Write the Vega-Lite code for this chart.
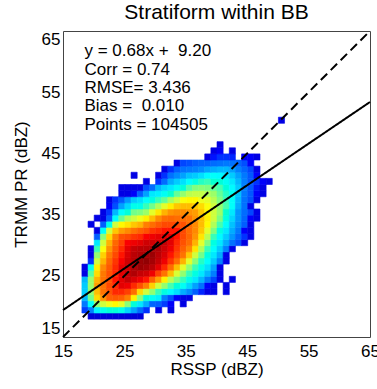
{
"$schema":"https://vega.github.io/schema/vega-lite/v6.json",
"width":307,"height":306,
"autosize":{"type":"none"},
"padding":{"left":63,"top":31,"right":7,"bottom":52},
"background":"white",
"title":{"text":"Stratiform within BB","fontSize":21,"font":"Liberation Sans","fontWeight":"normal","anchor":"middle","offset":4,"frame":"group","color":"#000"},
"config":{"view":{"stroke":"#444","strokeWidth":1},
"axis":{"grid":false,"ticks":false,"domain":false,"labelFont":"Liberation Sans","titleFont":"Liberation Sans","labelFontSize":17,"titleFontSize":17,"labelColor":"#000","titleColor":"#000","titleFontWeight":"normal","labelOverlap":false}},
"datasets":{
"cells":[
{"x":19,"y":18,"v":0.09},{"x":20,"y":18,"v":0.09},{"x":21,"y":18,"v":0.09},{"x":22,"y":18,"v":0.09},{"x":23,"y":18,"v":0.09},{"x":24,"y":18,"v":0.09},{"x":25,"y":18,"v":0.09},{"x":26,"y":18,"v":0.09},{"x":27,"y":18,"v":0.09},
{"x":18,"y":19,"v":0.16},{"x":19,"y":19,"v":0.25},{"x":20,"y":19,"v":0.36},{"x":21,"y":19,"v":0.4},{"x":22,"y":19,"v":0.42},{"x":23,"y":19,"v":0.42},{"x":24,"y":19,"v":0.4},{"x":25,"y":19,"v":0.33},{"x":26,"y":19,"v":0.28},{"x":27,"y":19,"v":0.22},{"x":28,"y":19,"v":0.15},{"x":30,"y":19,"v":0.1},{"x":32,"y":19,"v":0.1},
{"x":18,"y":20,"v":0.24},{"x":19,"y":20,"v":0.38},{"x":20,"y":20,"v":0.52},{"x":21,"y":20,"v":0.58},{"x":22,"y":20,"v":0.61},{"x":23,"y":20,"v":0.63},{"x":24,"y":20,"v":0.6},{"x":25,"y":20,"v":0.51},{"x":26,"y":20,"v":0.42},{"x":27,"y":20,"v":0.35},{"x":28,"y":20,"v":0.29},{"x":29,"y":20,"v":0.21},{"x":30,"y":20,"v":0.2},{"x":31,"y":20,"v":0.16},{"x":32,"y":20,"v":0.12},{"x":34,"y":20,"v":0.1},
{"x":18,"y":21,"v":0.3},{"x":19,"y":21,"v":0.49},{"x":20,"y":21,"v":0.66},{"x":21,"y":21,"v":0.73},{"x":22,"y":21,"v":0.8},{"x":23,"y":21,"v":0.81},{"x":24,"y":21,"v":0.8},{"x":25,"y":21,"v":0.75},{"x":26,"y":21,"v":0.64},{"x":27,"y":21,"v":0.51},{"x":28,"y":21,"v":0.42},{"x":29,"y":21,"v":0.39},{"x":30,"y":21,"v":0.36},{"x":31,"y":21,"v":0.25},{"x":32,"y":21,"v":0.18},{"x":33,"y":21,"v":0.12},{"x":34,"y":21,"v":0.1},{"x":35,"y":21,"v":0.1},
{"x":18,"y":22,"v":0.32},{"x":19,"y":22,"v":0.52},{"x":20,"y":22,"v":0.69},{"x":21,"y":22,"v":0.77},{"x":22,"y":22,"v":0.82},{"x":23,"y":22,"v":0.86},{"x":24,"y":22,"v":0.86},{"x":25,"y":22,"v":0.84},{"x":26,"y":22,"v":0.78},{"x":27,"y":22,"v":0.66},{"x":28,"y":22,"v":0.58},{"x":29,"y":22,"v":0.52},{"x":30,"y":22,"v":0.45},{"x":31,"y":22,"v":0.41},{"x":32,"y":22,"v":0.37},{"x":33,"y":22,"v":0.34},{"x":34,"y":22,"v":0.29},{"x":35,"y":22,"v":0.26},{"x":36,"y":22,"v":0.2},{"x":37,"y":22,"v":0.14},{"x":38,"y":22,"v":0.1},{"x":39,"y":22,"v":0.1},{"x":41,"y":22,"v":0.1},
{"x":18,"y":23,"v":0.32},{"x":19,"y":23,"v":0.53},{"x":20,"y":23,"v":0.72},{"x":21,"y":23,"v":0.77},{"x":22,"y":23,"v":0.83},{"x":23,"y":23,"v":0.86},{"x":24,"y":23,"v":0.9},{"x":25,"y":23,"v":0.89},{"x":26,"y":23,"v":0.86},{"x":27,"y":23,"v":0.82},{"x":28,"y":23,"v":0.75},{"x":29,"y":23,"v":0.67},{"x":30,"y":23,"v":0.58},{"x":31,"y":23,"v":0.52},{"x":32,"y":23,"v":0.46},{"x":33,"y":23,"v":0.42},{"x":34,"y":23,"v":0.39},{"x":35,"y":23,"v":0.33},{"x":36,"y":23,"v":0.28},{"x":37,"y":23,"v":0.23},{"x":38,"y":23,"v":0.12},{"x":39,"y":23,"v":0.1},{"x":41,"y":23,"v":0.1},
{"x":18,"y":24,"v":0.3},{"x":19,"y":24,"v":0.53},{"x":20,"y":24,"v":0.7},{"x":21,"y":24,"v":0.77},{"x":22,"y":24,"v":0.82},{"x":23,"y":24,"v":0.87},{"x":24,"y":24,"v":0.9},{"x":25,"y":24,"v":0.93},{"x":26,"y":24,"v":0.91},{"x":27,"y":24,"v":0.89},{"x":28,"y":24,"v":0.87},{"x":29,"y":24,"v":0.8},{"x":30,"y":24,"v":0.72},{"x":31,"y":24,"v":0.64},{"x":32,"y":24,"v":0.56},{"x":33,"y":24,"v":0.5},{"x":34,"y":24,"v":0.45},{"x":35,"y":24,"v":0.4},{"x":36,"y":24,"v":0.35},{"x":37,"y":24,"v":0.3},{"x":38,"y":24,"v":0.24},{"x":39,"y":24,"v":0.17},{"x":40,"y":24,"v":0.1},{"x":42,"y":24,"v":0.1},
{"x":18,"y":25,"v":0.1},{"x":19,"y":25,"v":0.47},{"x":20,"y":25,"v":0.66},{"x":21,"y":25,"v":0.76},{"x":22,"y":25,"v":0.82},{"x":23,"y":25,"v":0.86},{"x":24,"y":25,"v":0.9},{"x":25,"y":25,"v":0.93},{"x":26,"y":25,"v":0.95},{"x":27,"y":25,"v":0.93},{"x":28,"y":25,"v":0.92},{"x":29,"y":25,"v":0.89},{"x":30,"y":25,"v":0.84},{"x":31,"y":25,"v":0.77},{"x":32,"y":25,"v":0.69},{"x":33,"y":25,"v":0.59},{"x":34,"y":25,"v":0.52},{"x":35,"y":25,"v":0.45},{"x":36,"y":25,"v":0.41},{"x":37,"y":25,"v":0.35},{"x":38,"y":25,"v":0.3},{"x":39,"y":25,"v":0.25},{"x":40,"y":25,"v":0.1},
{"x":18,"y":26,"v":0.1},{"x":19,"y":26,"v":0.39},{"x":20,"y":26,"v":0.64},{"x":21,"y":26,"v":0.74},{"x":22,"y":26,"v":0.81},{"x":23,"y":26,"v":0.86},{"x":24,"y":26,"v":0.9},{"x":25,"y":26,"v":0.92},{"x":26,"y":26,"v":0.95},{"x":27,"y":26,"v":0.97},{"x":28,"y":26,"v":0.96},{"x":29,"y":26,"v":0.94},{"x":30,"y":26,"v":0.9},{"x":31,"y":26,"v":0.86},{"x":32,"y":26,"v":0.78},{"x":33,"y":26,"v":0.69},{"x":34,"y":26,"v":0.6},{"x":35,"y":26,"v":0.52},{"x":36,"y":26,"v":0.45},{"x":37,"y":26,"v":0.4},{"x":38,"y":26,"v":0.34},{"x":39,"y":26,"v":0.28},{"x":40,"y":26,"v":0.1},
{"x":19,"y":27,"v":0.15},{"x":20,"y":27,"v":0.58},{"x":21,"y":27,"v":0.7},{"x":22,"y":27,"v":0.79},{"x":23,"y":27,"v":0.85},{"x":24,"y":27,"v":0.88},{"x":25,"y":27,"v":0.92},{"x":26,"y":27,"v":0.94},{"x":27,"y":27,"v":0.97},{"x":28,"y":27,"v":0.98},{"x":29,"y":27,"v":0.96},{"x":30,"y":27,"v":0.93},{"x":31,"y":27,"v":0.89},{"x":32,"y":27,"v":0.85},{"x":33,"y":27,"v":0.78},{"x":34,"y":27,"v":0.7},{"x":35,"y":27,"v":0.6},{"x":36,"y":27,"v":0.51},{"x":37,"y":27,"v":0.44},{"x":38,"y":27,"v":0.38},{"x":39,"y":27,"v":0.32},{"x":40,"y":27,"v":0.25},{"x":41,"y":27,"v":0.1},
{"x":19,"y":28,"v":0.1},{"x":20,"y":28,"v":0.52},{"x":21,"y":28,"v":0.67},{"x":22,"y":28,"v":0.76},{"x":23,"y":28,"v":0.83},{"x":24,"y":28,"v":0.87},{"x":25,"y":28,"v":0.91},{"x":26,"y":28,"v":0.94},{"x":27,"y":28,"v":0.95},{"x":28,"y":28,"v":0.96},{"x":29,"y":28,"v":0.97},{"x":30,"y":28,"v":0.94},{"x":31,"y":28,"v":0.91},{"x":32,"y":28,"v":0.87},{"x":33,"y":28,"v":0.83},{"x":34,"y":28,"v":0.77},{"x":35,"y":28,"v":0.68},{"x":36,"y":28,"v":0.58},{"x":37,"y":28,"v":0.49},{"x":38,"y":28,"v":0.41},{"x":39,"y":28,"v":0.35},{"x":40,"y":28,"v":0.29},{"x":41,"y":28,"v":0.1},
{"x":19,"y":29,"v":0.1},{"x":20,"y":29,"v":0.45},{"x":21,"y":29,"v":0.62},{"x":22,"y":29,"v":0.73},{"x":23,"y":29,"v":0.81},{"x":24,"y":29,"v":0.86},{"x":25,"y":29,"v":0.9},{"x":26,"y":29,"v":0.93},{"x":27,"y":29,"v":0.94},{"x":28,"y":29,"v":0.94},{"x":29,"y":29,"v":0.95},{"x":30,"y":29,"v":0.95},{"x":31,"y":29,"v":0.92},{"x":32,"y":29,"v":0.89},{"x":33,"y":29,"v":0.85},{"x":34,"y":29,"v":0.8},{"x":35,"y":29,"v":0.74},{"x":36,"y":29,"v":0.65},{"x":37,"y":29,"v":0.55},{"x":38,"y":29,"v":0.45},{"x":39,"y":29,"v":0.38},{"x":40,"y":29,"v":0.32},{"x":41,"y":29,"v":0.25},{"x":42,"y":29,"v":0.1},
{"x":20,"y":30,"v":0.35},{"x":21,"y":30,"v":0.58},{"x":22,"y":30,"v":0.7},{"x":23,"y":30,"v":0.79},{"x":24,"y":30,"v":0.84},{"x":25,"y":30,"v":0.88},{"x":26,"y":30,"v":0.89},{"x":27,"y":30,"v":0.9},{"x":28,"y":30,"v":0.92},{"x":29,"y":30,"v":0.92},{"x":30,"y":30,"v":0.92},{"x":31,"y":30,"v":0.93},{"x":32,"y":30,"v":0.9},{"x":33,"y":30,"v":0.86},{"x":34,"y":30,"v":0.82},{"x":35,"y":30,"v":0.78},{"x":36,"y":30,"v":0.7},{"x":37,"y":30,"v":0.6},{"x":38,"y":30,"v":0.5},{"x":39,"y":30,"v":0.41},{"x":40,"y":30,"v":0.35},{"x":41,"y":30,"v":0.29},{"x":42,"y":30,"v":0.23},{"x":43,"y":30,"v":0.18},{"x":44,"y":30,"v":0.1},
{"x":20,"y":31,"v":0.2},{"x":21,"y":31,"v":0.51},{"x":22,"y":31,"v":0.66},{"x":23,"y":31,"v":0.75},{"x":24,"y":31,"v":0.82},{"x":25,"y":31,"v":0.83},{"x":26,"y":31,"v":0.85},{"x":27,"y":31,"v":0.86},{"x":28,"y":31,"v":0.88},{"x":29,"y":31,"v":0.89},{"x":30,"y":31,"v":0.9},{"x":31,"y":31,"v":0.9},{"x":32,"y":31,"v":0.9},{"x":33,"y":31,"v":0.87},{"x":34,"y":31,"v":0.83},{"x":35,"y":31,"v":0.79},{"x":36,"y":31,"v":0.73},{"x":37,"y":31,"v":0.65},{"x":38,"y":31,"v":0.56},{"x":39,"y":31,"v":0.45},{"x":40,"y":31,"v":0.37},{"x":41,"y":31,"v":0.32},{"x":42,"y":31,"v":0.27},{"x":43,"y":31,"v":0.21},{"x":44,"y":31,"v":0.15},{"x":45,"y":31,"v":0.1},
{"x":20,"y":32,"v":0.1},{"x":21,"y":32,"v":0.38},{"x":22,"y":32,"v":0.58},{"x":23,"y":32,"v":0.68},{"x":24,"y":32,"v":0.72},{"x":25,"y":32,"v":0.74},{"x":26,"y":32,"v":0.77},{"x":27,"y":32,"v":0.8},{"x":28,"y":32,"v":0.82},{"x":29,"y":32,"v":0.85},{"x":30,"y":32,"v":0.86},{"x":31,"y":32,"v":0.87},{"x":32,"y":32,"v":0.87},{"x":33,"y":32,"v":0.87},{"x":34,"y":32,"v":0.83},{"x":35,"y":32,"v":0.78},{"x":36,"y":32,"v":0.74},{"x":37,"y":32,"v":0.68},{"x":38,"y":32,"v":0.6},{"x":39,"y":32,"v":0.5},{"x":40,"y":32,"v":0.41},{"x":41,"y":32,"v":0.35},{"x":42,"y":32,"v":0.29},{"x":43,"y":32,"v":0.24},{"x":44,"y":32,"v":0.12},{"x":45,"y":32,"v":0.1},
{"x":19,"y":33,"v":0.1},{"x":21,"y":33,"v":0.2},{"x":22,"y":33,"v":0.4},{"x":23,"y":33,"v":0.58},{"x":24,"y":33,"v":0.63},{"x":25,"y":33,"v":0.65},{"x":26,"y":33,"v":0.68},{"x":27,"y":33,"v":0.7},{"x":28,"y":33,"v":0.75},{"x":29,"y":33,"v":0.78},{"x":30,"y":33,"v":0.81},{"x":31,"y":33,"v":0.83},{"x":32,"y":33,"v":0.83},{"x":33,"y":33,"v":0.83},{"x":34,"y":33,"v":0.82},{"x":35,"y":33,"v":0.78},{"x":36,"y":33,"v":0.74},{"x":37,"y":33,"v":0.69},{"x":38,"y":33,"v":0.63},{"x":39,"y":33,"v":0.55},{"x":40,"y":33,"v":0.46},{"x":41,"y":33,"v":0.38},{"x":42,"y":33,"v":0.31},{"x":43,"y":33,"v":0.26},{"x":44,"y":33,"v":0.2},{"x":45,"y":33,"v":0.1},
{"x":20,"y":34,"v":0.1},{"x":21,"y":34,"v":0.1},{"x":22,"y":34,"v":0.2},{"x":23,"y":34,"v":0.38},{"x":24,"y":34,"v":0.48},{"x":25,"y":34,"v":0.55},{"x":26,"y":34,"v":0.58},{"x":27,"y":34,"v":0.61},{"x":28,"y":34,"v":0.64},{"x":29,"y":34,"v":0.69},{"x":30,"y":34,"v":0.74},{"x":31,"y":34,"v":0.78},{"x":32,"y":34,"v":0.79},{"x":33,"y":34,"v":0.78},{"x":34,"y":34,"v":0.78},{"x":35,"y":34,"v":0.77},{"x":36,"y":34,"v":0.73},{"x":37,"y":34,"v":0.69},{"x":38,"y":34,"v":0.64},{"x":39,"y":34,"v":0.58},{"x":40,"y":34,"v":0.5},{"x":41,"y":34,"v":0.41},{"x":42,"y":34,"v":0.33},{"x":43,"y":34,"v":0.27},{"x":44,"y":34,"v":0.21},{"x":45,"y":34,"v":0.12},{"x":46,"y":34,"v":0.1},
{"x":21,"y":35,"v":0.1},{"x":22,"y":35,"v":0.15},{"x":23,"y":35,"v":0.3},{"x":24,"y":35,"v":0.38},{"x":25,"y":35,"v":0.42},{"x":26,"y":35,"v":0.49},{"x":27,"y":35,"v":0.5},{"x":28,"y":35,"v":0.53},{"x":29,"y":35,"v":0.6},{"x":30,"y":35,"v":0.65},{"x":31,"y":35,"v":0.7},{"x":32,"y":35,"v":0.73},{"x":33,"y":35,"v":0.74},{"x":34,"y":35,"v":0.74},{"x":35,"y":35,"v":0.73},{"x":36,"y":35,"v":0.72},{"x":37,"y":35,"v":0.68},{"x":38,"y":35,"v":0.63},{"x":39,"y":35,"v":0.58},{"x":40,"y":35,"v":0.53},{"x":41,"y":35,"v":0.43},{"x":42,"y":35,"v":0.35},{"x":43,"y":35,"v":0.27},{"x":44,"y":35,"v":0.22},{"x":45,"y":35,"v":0.17},{"x":46,"y":35,"v":0.1},
{"x":22,"y":36,"v":0.12},{"x":23,"y":36,"v":0.18},{"x":24,"y":36,"v":0.28},{"x":25,"y":36,"v":0.33},{"x":26,"y":36,"v":0.4},{"x":27,"y":36,"v":0.4},{"x":28,"y":36,"v":0.45},{"x":29,"y":36,"v":0.49},{"x":30,"y":36,"v":0.55},{"x":31,"y":36,"v":0.6},{"x":32,"y":36,"v":0.64},{"x":33,"y":36,"v":0.68},{"x":34,"y":36,"v":0.69},{"x":35,"y":36,"v":0.69},{"x":36,"y":36,"v":0.68},{"x":37,"y":36,"v":0.66},{"x":38,"y":36,"v":0.62},{"x":39,"y":36,"v":0.58},{"x":40,"y":36,"v":0.52},{"x":41,"y":36,"v":0.46},{"x":42,"y":36,"v":0.38},{"x":43,"y":36,"v":0.29},{"x":44,"y":36,"v":0.23},{"x":45,"y":36,"v":0.1},
{"x":22,"y":37,"v":0.1},{"x":23,"y":37,"v":0.15},{"x":24,"y":37,"v":0.2},{"x":25,"y":37,"v":0.27},{"x":26,"y":37,"v":0.32},{"x":27,"y":37,"v":0.34},{"x":28,"y":37,"v":0.38},{"x":29,"y":37,"v":0.41},{"x":30,"y":37,"v":0.45},{"x":31,"y":37,"v":0.48},{"x":32,"y":37,"v":0.54},{"x":33,"y":37,"v":0.58},{"x":34,"y":37,"v":0.62},{"x":35,"y":37,"v":0.63},{"x":36,"y":37,"v":0.63},{"x":37,"y":37,"v":0.61},{"x":38,"y":37,"v":0.6},{"x":39,"y":37,"v":0.56},{"x":40,"y":37,"v":0.5},{"x":41,"y":37,"v":0.45},{"x":42,"y":37,"v":0.38},{"x":43,"y":37,"v":0.3},{"x":44,"y":37,"v":0.23},{"x":45,"y":37,"v":0.18},{"x":46,"y":37,"v":0.1},
{"x":24,"y":38,"v":0.1},{"x":25,"y":38,"v":0.1},{"x":26,"y":38,"v":0.12},{"x":27,"y":38,"v":0.2},{"x":28,"y":38,"v":0.28},{"x":29,"y":38,"v":0.35},{"x":30,"y":38,"v":0.36},{"x":31,"y":38,"v":0.39},{"x":32,"y":38,"v":0.43},{"x":33,"y":38,"v":0.48},{"x":34,"y":38,"v":0.52},{"x":35,"y":38,"v":0.56},{"x":36,"y":38,"v":0.57},{"x":37,"y":38,"v":0.57},{"x":38,"y":38,"v":0.55},{"x":39,"y":38,"v":0.53},{"x":40,"y":38,"v":0.48},{"x":41,"y":38,"v":0.44},{"x":42,"y":38,"v":0.39},{"x":43,"y":38,"v":0.31},{"x":44,"y":38,"v":0.24},{"x":45,"y":38,"v":0.19},{"x":46,"y":38,"v":0.12},{"x":47,"y":38,"v":0.1},
{"x":24,"y":39,"v":0.1},{"x":25,"y":39,"v":0.1},{"x":26,"y":39,"v":0.1},{"x":27,"y":39,"v":0.1},{"x":28,"y":39,"v":0.18},{"x":29,"y":39,"v":0.22},{"x":30,"y":39,"v":0.3},{"x":31,"y":39,"v":0.33},{"x":32,"y":39,"v":0.35},{"x":33,"y":39,"v":0.39},{"x":34,"y":39,"v":0.42},{"x":35,"y":39,"v":0.47},{"x":36,"y":39,"v":0.5},{"x":37,"y":39,"v":0.51},{"x":38,"y":39,"v":0.5},{"x":39,"y":39,"v":0.48},{"x":40,"y":39,"v":0.46},{"x":41,"y":39,"v":0.42},{"x":42,"y":39,"v":0.37},{"x":43,"y":39,"v":0.32},{"x":44,"y":39,"v":0.25},{"x":45,"y":39,"v":0.19},{"x":46,"y":39,"v":0.13},{"x":47,"y":39,"v":0.1},
{"x":28,"y":40,"v":0.1},{"x":30,"y":40,"v":0.15},{"x":31,"y":40,"v":0.22},{"x":32,"y":40,"v":0.29},{"x":33,"y":40,"v":0.32},{"x":34,"y":40,"v":0.34},{"x":35,"y":40,"v":0.38},{"x":36,"y":40,"v":0.41},{"x":37,"y":40,"v":0.44},{"x":38,"y":40,"v":0.45},{"x":39,"y":40,"v":0.43},{"x":40,"y":40,"v":0.42},{"x":41,"y":40,"v":0.39},{"x":42,"y":40,"v":0.35},{"x":43,"y":40,"v":0.3},{"x":44,"y":40,"v":0.25},{"x":45,"y":40,"v":0.19},{"x":46,"y":40,"v":0.15},{"x":47,"y":40,"v":0.12},{"x":48,"y":40,"v":0.1},
{"x":26,"y":41,"v":0.1},{"x":30,"y":41,"v":0.1},{"x":31,"y":41,"v":0.15},{"x":32,"y":41,"v":0.23},{"x":33,"y":41,"v":0.26},{"x":34,"y":41,"v":0.28},{"x":35,"y":41,"v":0.31},{"x":36,"y":41,"v":0.32},{"x":37,"y":41,"v":0.34},{"x":38,"y":41,"v":0.37},{"x":39,"y":41,"v":0.38},{"x":40,"y":41,"v":0.37},{"x":41,"y":41,"v":0.35},{"x":42,"y":41,"v":0.32},{"x":43,"y":41,"v":0.28},{"x":44,"y":41,"v":0.24},{"x":45,"y":41,"v":0.19},{"x":46,"y":41,"v":0.12},
{"x":31,"y":42,"v":0.1},{"x":32,"y":42,"v":0.15},{"x":33,"y":42,"v":0.2},{"x":34,"y":42,"v":0.23},{"x":35,"y":42,"v":0.24},{"x":36,"y":42,"v":0.25},{"x":37,"y":42,"v":0.26},{"x":38,"y":42,"v":0.28},{"x":39,"y":42,"v":0.29},{"x":40,"y":42,"v":0.3},{"x":41,"y":42,"v":0.3},{"x":42,"y":42,"v":0.28},{"x":43,"y":42,"v":0.25},{"x":44,"y":42,"v":0.21},{"x":45,"y":42,"v":0.17},{"x":46,"y":42,"v":0.1},
{"x":33,"y":43,"v":0.1},{"x":34,"y":43,"v":0.17},{"x":35,"y":43,"v":0.18},{"x":36,"y":43,"v":0.2},{"x":37,"y":43,"v":0.21},{"x":38,"y":43,"v":0.21},{"x":39,"y":43,"v":0.22},{"x":40,"y":43,"v":0.23},{"x":41,"y":43,"v":0.24},{"x":42,"y":43,"v":0.23},{"x":43,"y":43,"v":0.21},{"x":44,"y":43,"v":0.18},{"x":45,"y":43,"v":0.12},
{"x":38,"y":44,"v":0.1},{"x":39,"y":44,"v":0.13},{"x":40,"y":44,"v":0.15},{"x":41,"y":44,"v":0.15},{"x":42,"y":44,"v":0.14},{"x":44,"y":44,"v":0.12},{"x":45,"y":44,"v":0.12},{"x":46,"y":44,"v":0.1},
{"x":39,"y":45,"v":0.1},{"x":40,"y":45,"v":0.12},{"x":42,"y":45,"v":0.1},
{"x":40,"y":46,"v":0.1},
{"x":50,"y":50,"v":0.1}
],
"lines":[
{"line":"fit","x":15,"y":19.4},{"line":"fit","x":65,"y":53.4},
{"line":"one","x":15,"y":15},{"line":"one","x":65,"y":65}
],
"stats":[
{"t":"y = 0.68x + \u00a09.20","x":18.5,"y":61.7},
{"t":"Corr = 0.74","x":18.5,"y":58.7},
{"t":"RMSE= 3.436","x":18.5,"y":55.7},
{"t":"Bias = \u00a00.010","x":18.5,"y":52.7},
{"t":"Points = 104505","x":18.5,"y":49.7}
]
},
"layer":[
{"data":{"name":"cells"},
"mark":{"type":"rect","strokeWidth":0.6},
"encoding":{
"x":{"field":"x","type":"quantitative","bin":{"binned":true,"step":1},"scale":{"domain":[15,65],"nice":false,"zero":false},
"axis":{"values":[15,25,35,45,55,65],"title":"RSSP (dBZ)","labelFlush":false,"labelPadding":6,"titlePadding":2}},
"y":{"field":"y","type":"quantitative","bin":{"binned":true,"step":1},"scale":{"domain":[15,65],"nice":false,"zero":false},
"axis":{"values":[15,25,35,45,55,65],"title":"TRMM PR (dBZ)","labelFlush":true,"labelPadding":3,"titlePadding":11}},
"color":{"field":"v","type":"quantitative","legend":null,
"scale":{"type":"linear","domain":[0,0.125,0.25,0.375,0.5,0.625,0.75,0.875,1],"range":["#00007F","#0000FF","#007FFF","#00FFFF","#7FFF7F","#FFFF00","#FF7F00","#FF0000","#7F0000"],"clamp":true}},
"stroke":{"field":"v","type":"quantitative","legend":null,
"scale":{"type":"linear","domain":[0,0.125,0.25,0.375,0.5,0.625,0.75,0.875,1],"range":["#00007F","#0000FF","#007FFF","#00FFFF","#7FFF7F","#FFFF00","#FF7F00","#FF0000","#7F0000"],"clamp":true}}
}},
{"data":{"name":"lines"},
"mark":{"type":"line","color":"#000","strokeWidth":2},
"encoding":{
"x":{"field":"x","type":"quantitative","scale":{"domain":[15,65],"nice":false,"zero":false}},
"y":{"field":"y","type":"quantitative","scale":{"domain":[15,65],"nice":false,"zero":false}},
"detail":{"field":"line"},
"strokeDash":{"field":"line","type":"nominal","legend":null,"scale":{"domain":["fit","one"],"range":[[1,0],[9,5]]}}
}},
{"data":{"name":"stats"},
"mark":{"type":"text","align":"left","baseline":"middle","font":"Liberation Sans","fontSize":17,"color":"#000"},
"encoding":{
"x":{"field":"x","type":"quantitative","scale":{"domain":[15,65],"nice":false,"zero":false}},
"y":{"field":"y","type":"quantitative","scale":{"domain":[15,65],"nice":false,"zero":false}},
"text":{"field":"t"}
}}
]
}
